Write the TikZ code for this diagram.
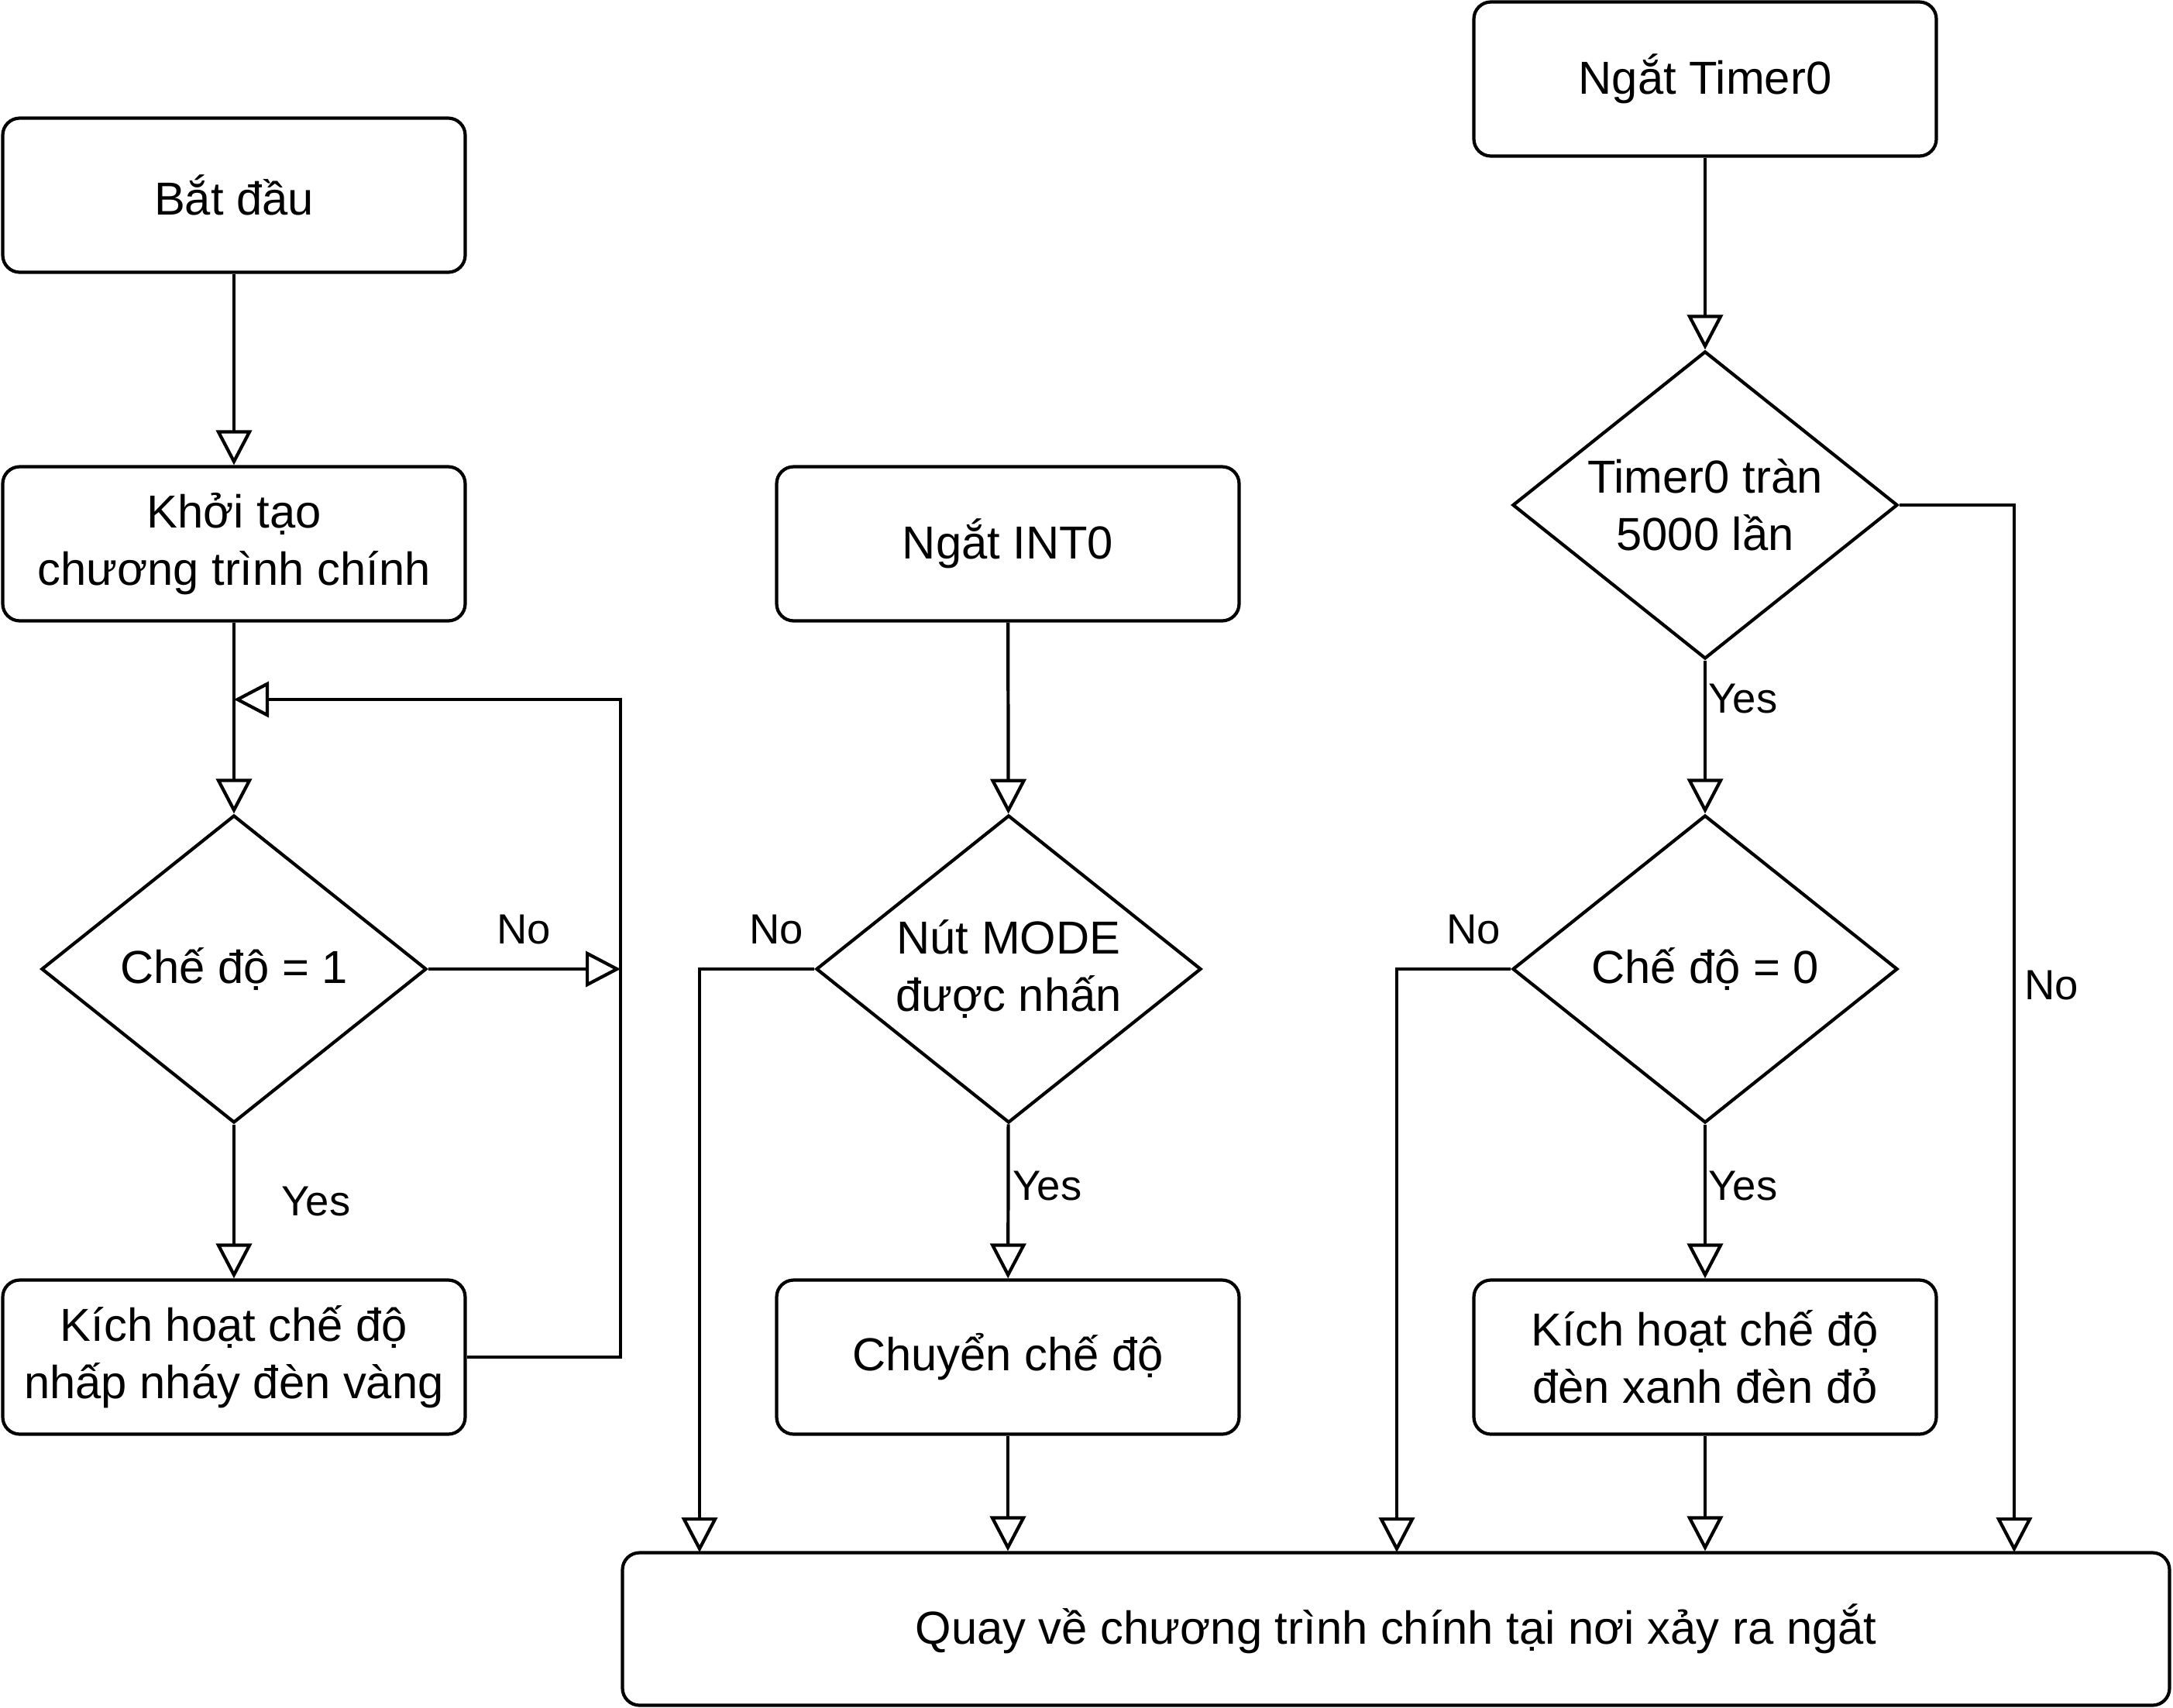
\documentclass[tikz,border=0pt]{standalone}
\usepackage{fontspec}
\setmainfont{Liberation Sans}
\usetikzlibrary{arrows.meta, shapes.geometric, positioning, calc}

\begin{document}
\begin{tikzpicture}[
  font=\fontsize{17}{21}\selectfont,
  line width=1.2pt,
  procbox/.style={draw, rounded corners=0.22cm, minimum width=5.97cm, minimum height=1.99cm, align=center, inner sep=0pt},
  decision/.style={draw, diamond, minimum width=4.97cm, minimum height=3.97cm, inner sep=-0.3cm, align=center},
  arr/.style={-{Triangle[open, length=0.45cm, width=0.46cm]}},
  lbl/.style={font=\fontsize{15.5}{18}\selectfont}
]
\useasboundingbox (0,0) rectangle (28.05,-22.05);

% main program
\node[procbox] (start) at (3.02,-2.52) {Bắt đầu};
\node[procbox] (init) at (3.02,-7.02) {Khởi tạo\\chương trình chính};
\node[decision] (mode1) at (3.02,-12.51) {Chế độ = 1};
\node[procbox] (blink) at (3.02,-17.52) {Kích hoạt chế độ\\nhấp nháy đèn vàng};
\coordinate (loopin) at (3.02,-9.03);
\coordinate (loopx) at (8.01,-12.51);

% INT0 interrupt
\node[procbox] (int0) at (13.01,-7.02) {Ngắt INT0};
\node[decision] (pressed) at (13.02,-12.51) {Nút MODE\\được nhấn};
\node[procbox] (switch) at (13.01,-17.52) {Chuyển chế độ};

% Timer0 interrupt
\node[procbox] (tmr) at (22.01,-1.02) {Ngắt Timer0};
\node[decision] (overflow) at (22.01,-6.52) {Timer0 tràn\\5000 lần};
\node[decision] (mode0) at (22.01,-12.51) {Chế độ = 0};
\node[procbox] (traffic) at (22.01,-17.52) {Kích hoạt chế độ\\đèn xanh đèn đỏ};

% return
\node[procbox, minimum width=19.97cm, minimum height=1.97cm] (ret) at (18.02,-21.03)
  {Quay về chương trình chính tại nơi xảy ra ngắt};
\coordinate (r1) at (9.03,-20.04);
\coordinate (r3) at (18.03,-20.04);
\coordinate (r5) at (26.00,-20.04);

\draw[arr] (start) -- (init);
\draw[arr] (init) -- (mode1);
\draw[arr] (mode1) -- (blink);
\draw[arr] (mode1.east) -- (loopx);
\draw[arr] (blink.east) -| (loopx) |- (loopin);

\draw[arr] (int0) -- (pressed);
\draw[arr] (pressed) -- (switch);
\draw[arr] (pressed.west) -| (r1);
\draw[arr] (switch) -- (switch |- ret.north);

\draw[arr] (tmr) -- (overflow);
\draw[arr] (overflow) -- (mode0);
\draw[arr] (overflow.east) -| (r5);
\draw[arr] (mode0) -- (traffic);
\draw[arr] (mode0.west) -| (r3);
\draw[arr] (traffic) -- (traffic |- ret.north);

% branch labels
\node[lbl] (no1) at (6.76,-12.0) {No};
\node[lbl] (yes1) at (4.08,-15.51) {Yes};
\node[lbl] (no2) at (10.02,-12.0) {No};
\node[lbl] (yes2) at (13.52,-15.31) {Yes};
\node[lbl] (yes3) at (22.50,-9.02) {Yes};
\node[lbl] (no3) at (19.02,-12.0) {No};
\node[lbl] (yes4) at (22.50,-15.31) {Yes};
\node[lbl] (no4) at (26.48,-12.72) {No};
\end{tikzpicture}
\end{document}
